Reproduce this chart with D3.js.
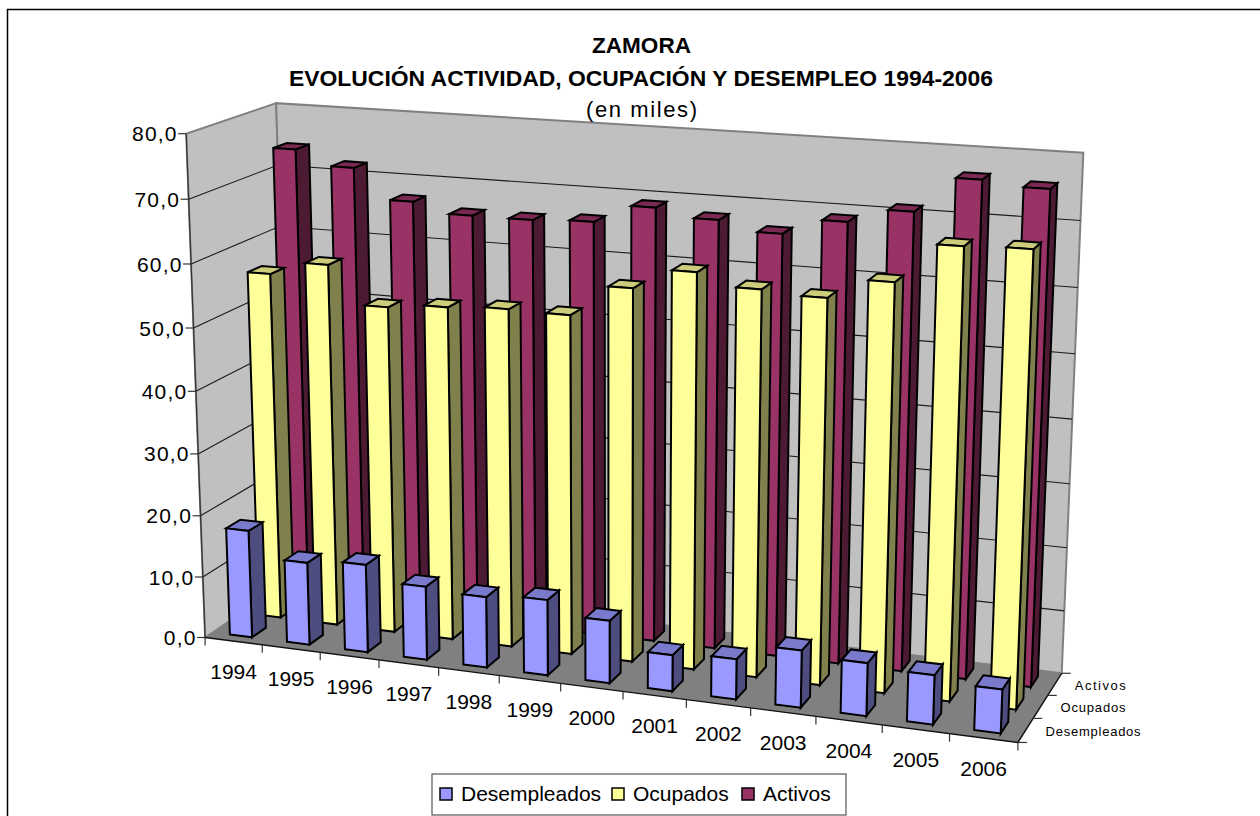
<!DOCTYPE html>
<html lang="es">
<head>
<meta charset="utf-8">
<title>Zamora</title>
<script src="https://cdn.jsdelivr.net/npm/d3@7"></script>
<style>
  body { margin: 0; background: #fff; }
  svg { display: block; }
  text { font-family: "Liberation Sans", Arial, sans-serif; fill: #000; }
</style>
</head>
<body>
<div id="grafico"></div>
<script>
const anios = ["1994","1995","1996","1997","1998","1999","2000","2001","2002","2003","2004","2005","2006"];
const seriesNombres = ["Desempleados", "Ocupados", "Activos"];
const desempleados = [17.5, 13.4, 14.2, 11.8, 11.3, 12.0, 9.9, 5.7, 6.3, 8.9, 8.2, 7.6, 6.7];
const ocupados = [56.3, 58.5, 52.6, 53.4, 53.9, 53.8, 58.7, 61.9, 60.1, 59.6, 62.7, 68.7, 69.0];
const activos = [74.2, 71.9, 67.2, 65.7, 65.7, 66.1, 69.0, 67.8, 66.4, 68.9, 71.1, 76.5, 75.8];
const valoresEje = [0, 10, 20, 30, 40, 50, 60, 70, 80];

const colores = {
  Desempleados: { frente: "#9999ff", lado: "#4d4d80", arriba: "#7a7acc" },
  Ocupados: { frente: "#ffff99", lado: "#80804d", arriba: "#cccc7a" },
  Activos: { frente: "#993366", lado: "#4d1a33", arriba: "#7a2952" }
};
const valoresPorSerie = { Desempleados: desempleados, Ocupados: ocupados, Activos: activos };

const svg = d3.select("#grafico").append("svg").attr("width", 1260).attr("height", 816);

// camara: matriz proyectiva ajustada a las esquinas de la caja (u, v, w en 0..1)
const m = [718.3287, 102.2607, -27.1946, 205.127, 36.0792, -23.101, -509.7264, 637.4841, -0.0928, 0.0589, -0.0444];
function proy(u, v, w) {
  const d = m[8] * u + m[9] * v + m[10] * w + 1;
  return [(m[0] * u + m[1] * v + m[2] * w + m[3]) / d, (m[4] * u + m[5] * v + m[6] * w + m[7]) / d];
}

const x = d3.scaleBand().domain(anios).range([0, 1]);
const z = d3.scaleBand().domain(seriesNombres).range([0, 1]);
const y = d3.scaleLinear().domain([0, 80]).range([0, 1]);

const linea = d3.line();
function cara(g, puntos, relleno, borde, ancho) {
  g.append("path")
    .attr("d", linea(puntos.map(p => proy(p[0], p[1], p[2]))) + "Z")
    .attr("fill", relleno)
    .attr("stroke", borde)
    .attr("stroke-width", ancho)
    .attr("stroke-linejoin", "miter");
}

// marco (solo izquierda y arriba, el resto queda fuera de la imagen)
svg.append("path").attr("d", "M7.5,816V9.5H1260").attr("fill", "none").attr("stroke", "#000").attr("stroke-width", 1.5);

// paredes y suelo
const caja = svg.append("g");
cara(caja, [[0,0,0],[0,1,0],[0,1,1],[0,0,1]], "#c0c0c0", "#808080", 2);
cara(caja, [[0,1,0],[1,1,0],[1,1,1],[0,1,1]], "#c0c0c0", "#808080", 2);

const grid = svg.append("g").attr("fill", "none").attr("stroke", "#1a1a1a").attr("stroke-width", 1.1);
valoresEje.slice(1, -1).forEach(t => {
  const w = y(t);
  grid.append("path").attr("d", linea([proy(0,0,w), proy(0,1,w), proy(1,1,w)]));
});

cara(caja, [[0,0,0],[1,0,0],[1,1,0],[0,1,0]], "#808080", "none", 0);

// ejes
const ejes = svg.append("g").attr("fill", "none").attr("stroke", "#333").attr("stroke-width", 1.2);
ejes.append("path").attr("d", linea([proy(0,0,0), proy(0,0,1)]));
ejes.append("path").attr("d", linea([proy(0,0,0), proy(1,0,0), proy(1,1,0)])).attr("stroke", "#111").attr("stroke-width", 1.4);

valoresEje.forEach(t => {
  const [px, py] = proy(0, 0, y(t));
  ejes.append("path").attr("d", `M${px - 8},${py}H${px}`);
  svg.append("text")
    .attr("x", px - 8.5)
    .attr("y", py)
    .attr("dy", "0.36em")
    .attr("text-anchor", "end")
    .attr("font-size", 21)
    .attr("letter-spacing", 1.2)
    .text(d3.format(".1f")(t).replace(".", ","));
});

anios.forEach(a => {
  const u0 = x(a);
  const [tx, ty] = proy(u0, 0, 0);
  ejes.append("path").attr("d", `M${tx},${ty}V${ty + 8}`);
  const [lx, ly] = proy(u0 + x.bandwidth() / 2, 0, 0);
  svg.append("text")
    .attr("x", lx)
    .attr("y", ly + 30)
    .attr("dy", "0.36em")
    .attr("text-anchor", "middle")
    .attr("font-size", 21)
    .text(a);
});
const [fx, fy] = proy(1, 0, 0);
ejes.append("path").attr("d", `M${fx},${fy}V${fy + 8}`);

const anchoEtiqueta = d3.scaleOrdinal().domain(seriesNombres).range([95, 65, 51]);
seriesNombres.forEach(s => {
  const [tx, ty] = proy(1, z(s), 0);
  ejes.append("path").attr("d", `M${tx},${ty}H${tx + 9}`);
  const [lx, ly] = proy(1, z(s) + z.bandwidth() / 2, 0);
  svg.append("text")
    .attr("x", lx + 20)
    .attr("y", ly + 1)
    .attr("dy", "0.36em")
    .attr("font-size", 13)
    .attr("textLength", anchoEtiqueta(s))
    .text(s);
});
const [bx, by] = proy(1, 1, 0);
ejes.append("path").attr("d", `M${bx},${by}H${bx + 9}`);

// barras, de atras hacia delante
const anchoBarra = x.bandwidth() * 0.39;
const fondoBarra = z.bandwidth() * 0.48;
const barras = svg.append("g");
seriesNombres.slice().reverse().forEach(s => {
  const c = colores[s];
  const v0 = z(s) + (z.bandwidth() - fondoBarra) / 2;
  const v1 = v0 + fondoBarra;
  valoresPorSerie[s].forEach((val, i) => {
    const u0 = x(anios[i]) + x.bandwidth() * 0.3;
    const u1 = u0 + anchoBarra;
    const w = y(val);
    const g = barras.append("g");
    cara(g, [[u1,v0,0],[u1,v1,0],[u1,v1,w],[u1,v0,w]], c.lado, "#000", 2);
    cara(g, [[u0,v0,w],[u1,v0,w],[u1,v1,w],[u0,v1,w]], c.arriba, "#000", 2);
    cara(g, [[u0,v0,0],[u1,v0,0],[u1,v0,w],[u0,v0,w]], c.frente, "#000", 2);
  });
});

// titulos
const tit = svg.append("g").attr("text-anchor", "middle").attr("font-size", 22);
tit.append("text").attr("x", 641.5).attr("y", 53).attr("font-weight", "bold").attr("textLength", 99)
  .attr("lengthAdjust", "spacingAndGlyphs").text("ZAMORA");
tit.append("text").attr("x", 641).attr("y", 86).attr("font-weight", "bold")
  .attr("textLength", 704).attr("lengthAdjust", "spacingAndGlyphs")
  .text("EVOLUCIÓN ACTIVIDAD, OCUPACIÓN Y DESEMPLEO 1994-2006");
tit.append("text").attr("x", 641.5).attr("y", 117).attr("textLength", 111).text("(en miles)");

// leyenda
const leyenda = svg.append("g");
leyenda.append("rect").attr("x", 432).attr("y", 774).attr("width", 414).attr("height", 41)
  .attr("fill", "#fff").attr("stroke", "#555").attr("stroke-width", 1.2);
const leyendaX = d3.scaleOrdinal().domain(seriesNombres).range([440, 612, 742]);
seriesNombres.forEach(s => {
  const lx = leyendaX(s);
  leyenda.append("rect").attr("x", lx).attr("y", 788).attr("width", 12).attr("height", 12)
    .attr("fill", colores[s].frente).attr("stroke", "#000").attr("stroke-width", 1.5);
  leyenda.append("text").attr("x", lx + 21).attr("y", 801).attr("font-size", 21).text(s);
});
</script>
</body>
</html>
